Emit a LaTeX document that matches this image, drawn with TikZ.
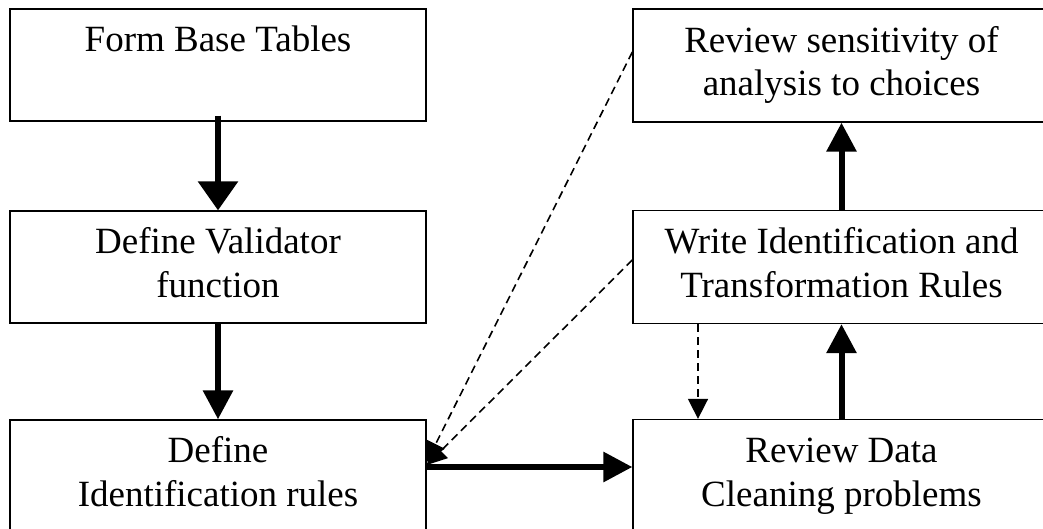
\documentclass[tikz,border=0pt]{standalone}
\usepackage{fontspec}
\setmainfont{Liberation Serif}
\usetikzlibrary{arrows.meta}
\begin{document}
\begin{tikzpicture}[x=1pt,y=1pt,
  box/.style={draw, line width=1.3pt, minimum width=416pt, minimum height=112pt,
    inner sep=0pt, align=center, font=\fontsize{37}{43.5}\selectfont},
  rbox/.style={box, minimum width=417pt, minimum height=113pt},
  thickarrow/.style={line width=6pt, -{Triangle[width=29pt,length=29pt]}},
  dasharrow/.style={line width=1.6pt, dash pattern=on 8pt off 5pt, -{Triangle[width=20pt,length=20pt]}}]
\clip (0,0) rectangle (1043,-528);
\fill[white] (0,0) rectangle (1043,-528);
% left column
\node[box] (fb) at (218,-65) {\strut Form Base Tables\\\strut};
\node[box] (dv) at (218,-267) {\strut Define Validator\\\strut function};
\node[box] (di) at (218,-476) {\strut Define\\\strut Identification rules};
% right column
\node[rbox] (rs) at (841.5,-65.5) {\strut Review sensitivity of\\\strut analysis to choices};
\node[rbox] (wr) at (841.5,-267) {\strut Write Identification and\\\strut Transformation Rules};
\node[rbox] (rd) at (841.5,-476) {\strut Review Data\\\strut Cleaning problems};
% solid arrows
\draw[thickarrow, -{Triangle[width=39pt,length=29pt]}] ([yshift=6pt]fb.south) -- (dv.north);
\draw[thickarrow] (dv.south) -- (di.north);
\draw[thickarrow] ([yshift=9pt]di.east) -- ([yshift=9pt]rd.west);
\draw[thickarrow] (rd.north) -- (wr.south);
\draw[thickarrow] (wr.north) -- (rs.south);
% dashed arrows
\draw[dasharrow] ([xshift=-143.5pt]wr.south) -- ([xshift=-143.5pt]rd.north);
\coordinate (t1) at ([yshift=14pt]di.east);
\coordinate (t2) at ([yshift=11pt]di.east);
\draw[dasharrow] ([yshift=13.5pt]rs.west) -- (t1);
\draw[dasharrow] ([yshift=7pt]wr.west) -- (t2);
\end{tikzpicture}
\end{document}
